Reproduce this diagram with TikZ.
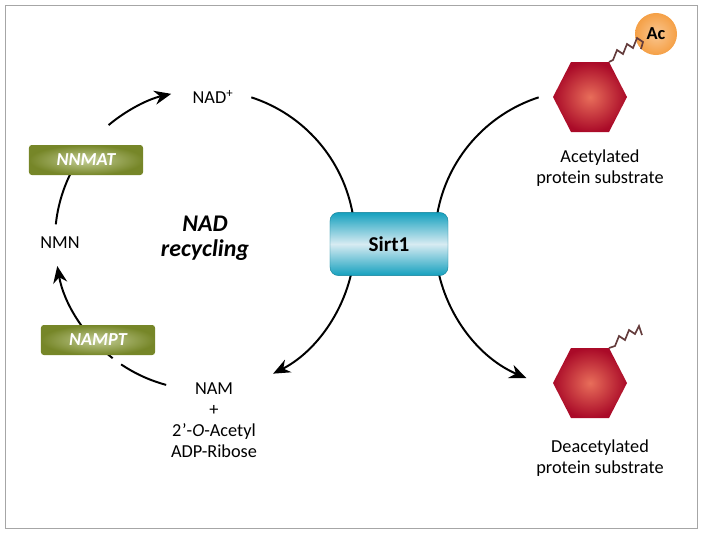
\documentclass[tikz,border=0pt]{standalone}
\usepackage{fontspec}
\setmainfont{Carlito}
\usetikzlibrary{arrows.meta, positioning, shapes.geometric}
\definecolor{olive1}{RGB}{196,206,150}
\definecolor{olive2}{RGB}{118,134,40}
\definecolor{cyan1}{RGB}{215,235,242}
\definecolor{cyan2}{RGB}{20,160,190}
\definecolor{hexred}{RGB}{170,10,40}
\definecolor{hexin}{RGB}{232,110,90}
\definecolor{acorange}{RGB}{245,160,70}
\definecolor{squig}{RGB}{100,60,60}
\tikzset{
  enzyme/.style={rectangle,rounded corners=2pt,minimum width=2.85cm,minimum height=0.75cm,
    inner color=olive1,outer color=olive2,text=white,font=\bfseries\itshape\fontsize{13}{15}\selectfont},
  lbl/.style={align=center,font=\fontsize{13}{15}\selectfont},
  cyc/.style={line width=1.4pt},
  arr/.style={cyc,-{Stealth[length=12pt,width=10pt]}},
}
\begin{document}
\begin{tikzpicture}[x=0.025cm,y=-0.025cm]
    \useasboundingbox (0,0) rectangle (702,533);
    \draw[gray!70,line width=0.6pt] (5,5) rectangle (697,528);
    % linker Kreis (NAD recycling)
    \draw[cyc] (205,240) ++(-72:150) arc (-72:-10:150);
    \draw[arr] (205,240) ++(12:150) arc (12:63:150);
    \draw[arr] (205,240) ++(-130:150) arc (-130:-103:150);
    \draw[cyc] (205,240) ++(-152:150) arc (-152:-174:150);
    \draw[arr] (205,240) ++(-232:150) arc (-232:-190:150);
    \draw[cyc] (205,240) ++(-236:150) arc (-236:-255:150);
    % rechter Kreis
    \draw[cyc] (585,240) ++(-170:150) arc (-170:-108:150);
    \draw[arr] (585,240) ++(-190:150) arc (-190:-247:150);
    % Knoten
    \node[rectangle,rounded corners=6pt,minimum width=2.95cm,minimum height=1.58cm,
      top color=cyan2,bottom color=cyan2,middle color=cyan1,draw=cyan2!80!black,line width=0.3pt,
      font=\bfseries\fontsize{15}{17}\selectfont] (sirt) at (389,244) {Sirt1};
    \node[enzyme] (nnmat) at (86,160) {NNMAT};
    \node[enzyme] (nampt) at (98,340) {NAMPT};
    \node[lbl] (nad) at (213,97) {NAD\textsuperscript{+}};
    \node[lbl] (nmn) at (60,243) {NMN};
    \node[lbl,font=\bfseries\itshape\fontsize{17}{18}\selectfont] (rec) at (205,238) {NAD\\recycling};
    \node[lbl,align=center] (nam) at (214,420) {NAM\\+\\2\kern0.5pt{\textquoteright}-\textit{O}-Acetyl\\ADP-Ribose};
    % Substrate
    \foreach \name/\y in {hexa/97,hexd/383} {
      \shade[inner color=hexin,outer color=hexred]
        (553,\y) -- (571,\y-35) -- (609,\y-35) -- (627,\y) -- (609,\y+35) -- (571,\y+35) -- cycle;
      \coordinate (\name) at (609,\y-35);
    }
    \node[circle,minimum size=1.05cm,inner sep=0pt,inner color=acorange!60,outer color=acorange,
      font=\bfseries\fontsize{13}{15}\selectfont] (ac) at (656,34) {Ac};
    \draw[squig,line width=1.2pt] (hexa) -- ++(4,-2) -- ++(4,-10) -- ++(6,4) -- ++(4,-10)
      -- ++(6,4) -- ++(4,-10) -- ++(6,4) -- (ac.south west);
    \coordinate (tip) at (642,335);
    \draw[squig,line width=1.2pt] (hexd) -- ++(6,-2) -- ++(4,-10) -- ++(6,4) -- ++(4,-10)
      -- ++(6,4) -- ++(4,-8) -- (tip);
    \node[lbl] (acl) at (600,168) {Acetylated\\protein substrate};
    \node[lbl] (dacl) at (600,458) {Deacetylated\\protein substrate};
\end{tikzpicture}
\end{document}
